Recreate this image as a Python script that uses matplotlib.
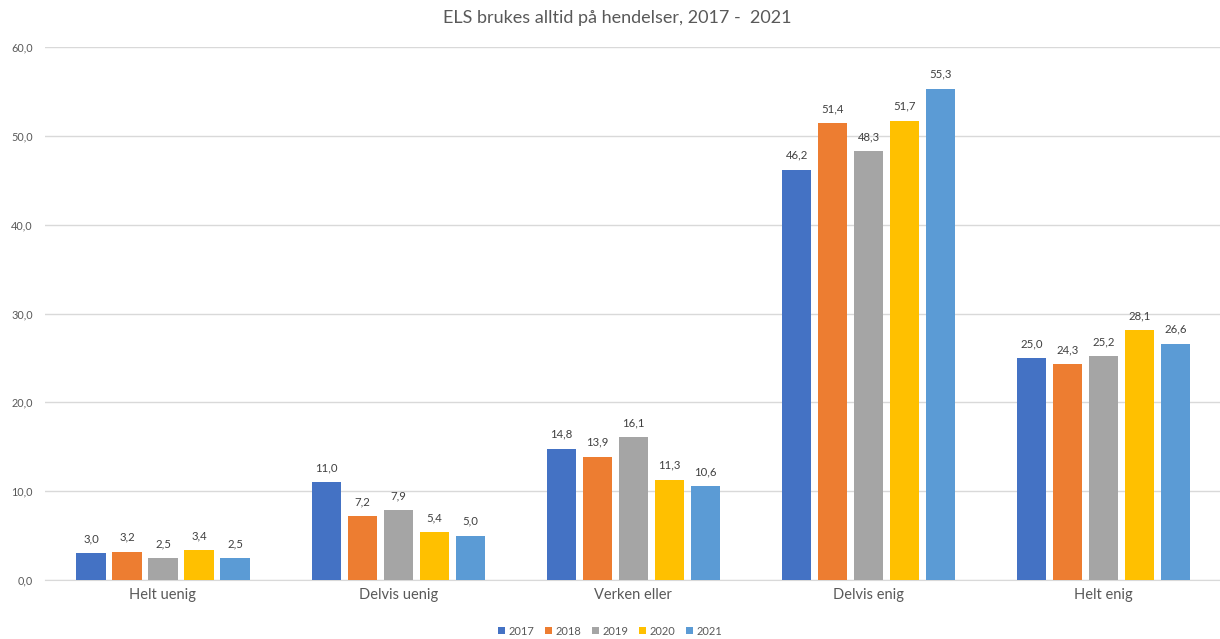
import matplotlib
matplotlib.use("Agg")
import matplotlib.pyplot as plt
import numpy as np

categories = ["Helt uenig", "Delvis uenig", "Verken eller", "Delvis enig", "Helt enig"]
years = ["2017", "2018", "2019", "2020", "2021"]
v2017 = [3.0, 11.0, 14.8, 46.2, 25.0]
v2018 = [3.2, 7.2, 13.9, 51.4, 24.3]
v2019 = [2.5, 7.9, 16.1, 48.3, 25.2]
v2020 = [3.4, 5.4, 11.3, 51.7, 28.1]
v2021 = [2.5, 5.0, 10.6, 55.3, 26.6]
series = [v2017, v2018, v2019, v2020, v2021]
colors = ["#4472C4", "#ED7D31", "#A5A5A5", "#FFC000", "#5B9BD5"]

plt.rcParams['font.family'] = ['Lato', 'DejaVu Sans']

fig = plt.figure(figsize=(12.2, 6.39), dpi=100)
ax = fig.add_axes([0.0372, 0.0923, 0.964, 0.8341])

x = np.arange(len(categories))
pitch = 0.153
width = 0.124
for i, (vals, c, yr) in enumerate(zip(series, colors, years)):
    pos = x + (i - 2) * pitch
    bars = ax.bar(pos, vals, width, color=c, label=yr, zorder=3)
    for b, v in zip(bars, vals):
        ax.text(b.get_x() + b.get_width() / 2, v + 1.0, f"{v:.1f}".replace(".", ","),
                ha="center", va="bottom", fontsize=8.2, color="#404040")

ax.set_xlim(-0.5, 4.5)
ax.set_ylim(0, 60)
ax.set_yticks(np.arange(0, 61, 10))
ax.set_yticklabels([f"{t:.1f}".replace(".", ",") for t in np.arange(0, 61, 10)],
                   fontsize=7.8, color="#595959")
ax.set_xticks(x)
ax.set_xticklabels(categories, fontsize=10.5, color="#595959")
ax.tick_params(axis="both", length=0)
ax.tick_params(axis="y", pad=9)
ax.tick_params(axis="x", pad=6)
ax.grid(axis="y", color="#D9D9D9", linewidth=1, zorder=0)
for s in ["top", "right", "left"]:
    ax.spines[s].set_visible(False)
ax.spines["bottom"].set_color("#D9D9D9")

fig.text(0.506, 0.972, "ELS brukes alltid på hendelser, 2017 -  2021", ha="center", va="center",
         fontsize=13, color="#595959")
leg = fig.legend(loc="center", bbox_to_anchor=(0.5, 0.012), ncol=5, frameon=False,
                 fontsize=8, handlelength=0.6, handleheight=0.6, columnspacing=1.0,
                 handletextpad=0.3)
for t in leg.get_texts():
    t.set_color("#595959")

fig.savefig("out.png", dpi=100)
